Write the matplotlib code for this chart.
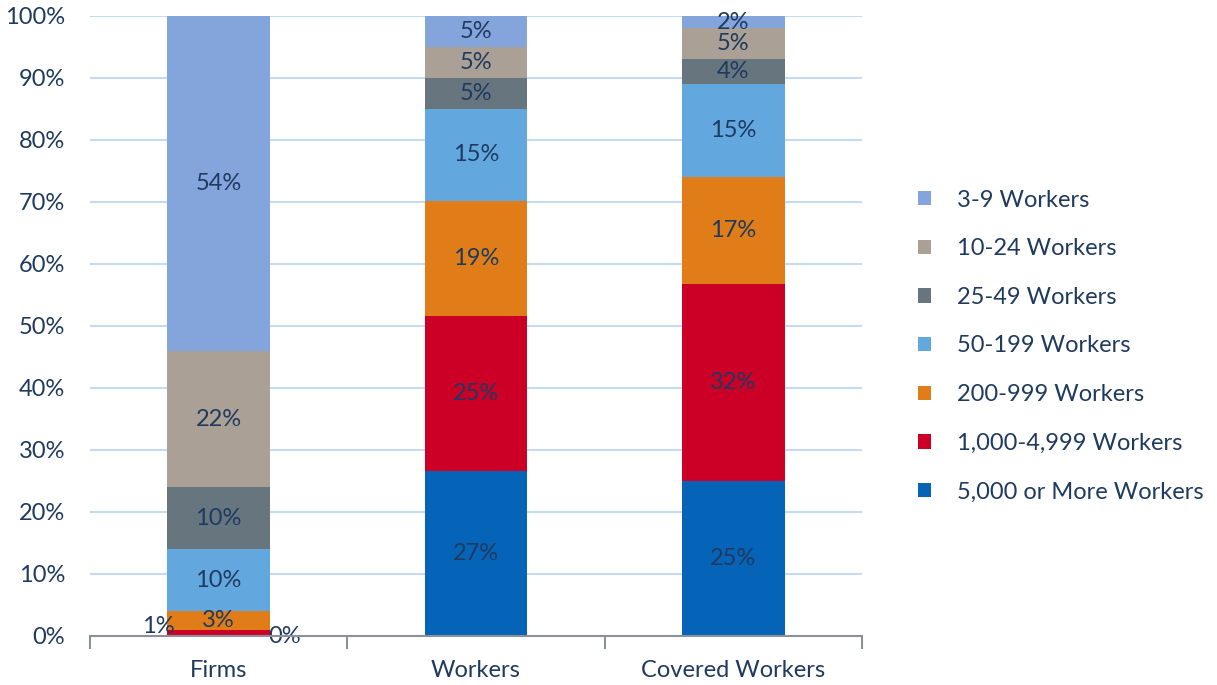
import matplotlib
matplotlib.use("Agg")
import matplotlib.pyplot as plt
from matplotlib.patches import Patch
import numpy as np

plt.rcParams['font.family'] = ['Lato', 'DejaVu Sans']

categories = ["Firms", "Workers", "Covered Workers"]
series_names = ["5,000 or More Workers", "1,000-4,999 Workers", "200-999 Workers",
                "50-199 Workers", "25-49 Workers", "10-24 Workers", "3-9 Workers"]
# values per series, for Firms, Workers, Covered Workers (percent)
s5000 = [0.0, 26.6, 25.0]
s1000 = [1.0, 25.0, 31.8]
s200 = [3.0, 18.6, 17.2]
s50 = [10.0, 14.8, 15.0]
s25 = [10.0, 5.0, 4.0]
s10 = [22.0, 5.0, 5.0]
s3 = [54.0, 5.0, 2.0]
labels_5000 = ["0%", "27%", "25%"]
labels_1000 = ["1%", "25%", "32%"]
labels_200 = ["3%", "19%", "17%"]
labels_50 = ["10%", "15%", "15%"]
labels_25 = ["10%", "5%", "4%"]
labels_10 = ["22%", "5%", "5%"]
labels_3 = ["54%", "5%", "2%"]

series = [s5000, s1000, s200, s50, s25, s10, s3]
labels = [labels_5000, labels_1000, labels_200, labels_50, labels_25, labels_10, labels_3]
colors = ["#0563B8", "#CC0027", "#E07D18", "#63A7DF", "#67757F", "#AAA095", "#84A4DC"]
text_color = "#1F3A5F"
FS = 17

fig = plt.figure(figsize=(12.17, 6.85), dpi=100)
ax = fig.add_axes([90/1217, 1-636/685, (862-90)/1217, (636-16)/685])

x = np.arange(len(categories))
width = 0.40
bottom = np.zeros(len(categories))
for si, (vals, labs, col, name) in enumerate(zip(series, labels, colors, series_names)):
    vals = np.array(vals)
    ax.bar(x, vals, width, bottom=bottom, color=col, label=name, zorder=2)
    for ci in range(len(categories)):
        yc = bottom[ci] + vals[ci] / 2
        if ci == 0 and si == 0:
            ax.text(x[ci] + width/2 - 0.008, bottom[ci] - 0.1, labs[ci], ha='left', va='center',
                    fontsize=FS, color=text_color, zorder=3)
        elif ci == 0 and si == 1:
            ax.text(x[ci] - width/2 + 0.03, 1.5, labs[ci], ha='right', va='center',
                    fontsize=FS, color=text_color, zorder=3)
        else:
            ax.text(x[ci], yc, labs[ci], ha='center', va='center',
                    fontsize=FS, color=text_color, zorder=3)
    bottom += vals

ax.set_xlim(-0.5, 2.5)
ax.set_ylim(0, 100)
ax.set_yticks(np.arange(0, 101, 10))
ax.set_yticklabels([f"{v}%" for v in range(0, 101, 10)])
ax.yaxis.grid(True, color="#C5DCF0", linewidth=1.5, zorder=0)
ax.set_axisbelow(True)
ax.tick_params(axis='y', length=0, labelsize=FS, labelcolor=text_color, pad=18)
ax.set_xticks(x)
ax.set_xticklabels(categories)
ax.tick_params(axis='x', length=0, labelsize=FS, labelcolor=text_color, pad=17)
ax.set_xticks([-0.5, 0.5, 1.5, 2.5], minor=True)
ax.tick_params(axis='x', which='minor', length=9, width=1.5, color="#8C9198", direction='out')
for sp in ['top', 'right', 'left']:
    ax.spines[sp].set_visible(False)
ax.spines['bottom'].set_color("#8C9198")
ax.spines['bottom'].set_linewidth(1.5)
ax.spines['bottom'].set_zorder(4)

leg_handles = [Patch(facecolor=c) for c in colors[::-1]]
leg = fig.legend(leg_handles, series_names[::-1], loc='center left',
                 bbox_to_anchor=(918/1217, 1-346/685), frameon=False,
                 fontsize=FS, handlelength=0.55, handleheight=0.55,
                 handletextpad=1.1, labelspacing=1.17, borderpad=0, borderaxespad=0)
for t in leg.get_texts():
    t.set_color(text_color)

fig.savefig("out.png", dpi=100)
